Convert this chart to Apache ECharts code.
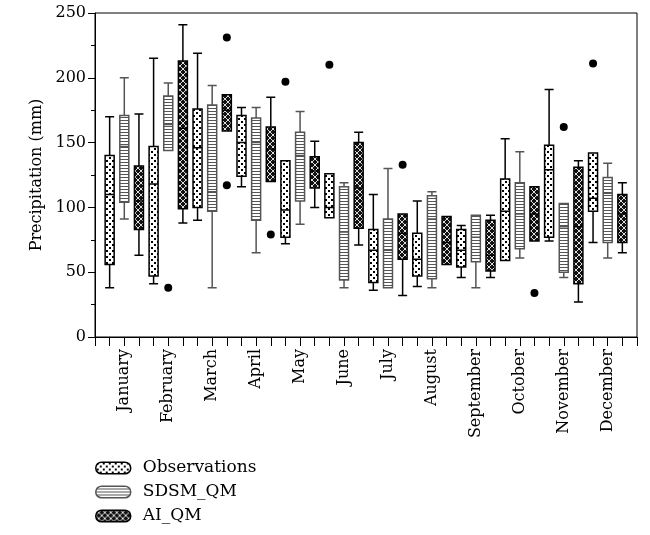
<!DOCTYPE html>
<html>
<head>
<meta charset="utf-8">
<script src="https://cdn.jsdelivr.net/npm/echarts@6/dist/echarts.min.js"></script>
<style>
  html, body { margin: 0; padding: 0; background: #fff; }
  #main { width: 650px; height: 535px; }
</style>
</head>
<body>
<div id="main"></div>
<script>
// month names shown under each group of three boxes
var months = ['January', 'February', 'March', 'April', 'May', 'June',
  'July', 'August', 'September', 'October', 'November', 'December'];

// [min, Q1, median, Q3, max] per month
var observations = [
  [38, 56, 110, 140, 170], [41, 47, 118, 147, 215], [90, 100, 146, 176, 219],
  [116, 124, 150, 171, 177], [72, 77, 98, 136, 136], [92, 92, 100, 126, 126],
  [36, 42, 67, 83, 110], [39, 47, 60, 80, 105], [46, 54, 67, 83, 86],
  [59, 59, 97, 122, 153], [74, 77, 129, 148, 191], [73, 97, 107, 142, 142]
];
var sdsmQm = [
  [91, 104, 147, 171, 200], [144, 144, 164, 186, 196], [38, 97, 112, 179, 194],
  [65, 90, 150, 169, 177], [87, 105, 140, 158, 174], [38, 44, 81, 116, 119],
  [38, 38, 67, 91, 130], [38, 45, 91, 109, 112], [38, 58, 77, 94, 94],
  [61, 68, 95, 119, 143], [46, 50, 85, 103, 103], [61, 73, 111, 123, 134]
];
var aiQm = [
  [63, 83, 105, 132, 172], [88, 99, 161, 213, 241], [159, 159, 175, 187, 187],
  [120, 120, 145, 162, 185], [100, 115, 128, 139, 151], [71, 84, 115, 150, 158],
  [32, 60, 80, 95, 95], [56, 56, 73, 93, 93], [46, 51, 63, 90, 94],
  [74, 74, 95, 116, 116], [27, 41, 85, 131, 136], [65, 73, 95, 110, 119]
];

// outliers: [month index, value]
var obsOutliers = [[4, 197], [5, 210], [11, 211]];
var sdsmOutliers = [[1, 38], [10, 162]];
var aiOutliers = [[2, 231], [2, 117], [3, 79], [6, 133], [9, 34]];

var seriesNames = ['Observations', 'SDSM_QM', 'AI_QM'];
var FONT = 'DejaVu Serif';

function makePattern(w, h, draw) {
  var c = document.createElement('canvas');
  c.width = w;
  c.height = h;
  draw(c.getContext('2d'));
  return { image: c, repeat: 'repeat' };
}

var dotFill = makePattern(6, 6, function (ctx) {
  ctx.fillStyle = '#fff';
  ctx.fillRect(0, 0, 6, 6);
  ctx.fillStyle = '#000';
  ctx.fillRect(1, 1, 2, 2);
  ctx.fillRect(4, 4, 2, 2);
});
var stripeFill = makePattern(4, 3, function (ctx) {
  ctx.fillStyle = '#fff';
  ctx.fillRect(0, 0, 4, 3);
  ctx.fillStyle = '#555';
  ctx.fillRect(0, 0, 4, 1);
});
var crossFill = makePattern(6, 6, function (ctx) {
  ctx.fillStyle = '#111';
  ctx.fillRect(0, 0, 6, 6);
  ctx.strokeStyle = '#ddd';
  ctx.lineWidth = 1;
  ctx.beginPath();
  ctx.moveTo(0, 0); ctx.lineTo(6, 6);
  ctx.moveTo(6, 0); ctx.lineTo(0, 6);
  ctx.stroke();
});

var fills = [dotFill, stripeFill, crossFill];
var borders = ['#000', '#555', '#000'];
var groups = [observations, sdsmQm, aiQm];
var outlierGroups = [obsOutliers, sdsmOutliers, aiOutliers];

// each group gets its own hidden x axis so boxes are not shifted sideways
var xAxes = [];
for (var a = 0; a < 3; a++) {
  xAxes.push({
    type: 'value',
    show: a === 0,
    min: 0,
    max: 37,
    interval: 1,
    gridIndex: 0,
    splitLine: { show: false },
    axisLine: { lineStyle: { color: '#000', width: 1 } },
    axisTick: { show: true, length: 9, lineStyle: { color: '#000', width: 1 } },
    axisLabel: {
      rotate: 90,
      margin: 12,
      color: '#000',
      fontFamily: FONT,
      fontSize: 16,
      formatter: function (v) {
        return (v % 3 === 2 && v < 36) ? months[(v - 2) / 3] : '';
      }
    }
  });
}

var series = [];
groups.forEach(function (g, s) {
  series.push({
    name: seriesNames[s],
    type: 'boxplot',
    xAxisIndex: s,
    boxWidth: [9, 9],
    itemStyle: { color: fills[s], borderColor: borders[s], borderWidth: 1.5 },
    emphasis: { disabled: true },
    data: g.map(function (d, m) {
      return [m * 3 + s + 1].concat(d);
    })
  });
});
series.push({
  name: 'outliers',
  type: 'scatter',
  xAxisIndex: 0,
  symbolSize: 8,
  itemStyle: { color: '#000', opacity: 1 },
  emphasis: { disabled: true },
  data: [].concat.apply([], outlierGroups.map(function (list, s) {
    return list.map(function (p) { return [p[0] * 3 + s + 1, p[1]]; });
  }))
});

var pill = 'path://M6,0L30,0A6,6,0,0,1,30,12L6,12A6,6,0,0,1,6,0Z';

var chart = echarts.init(document.getElementById('main'));
chart.setOption({
  animation: false,
  grid: {
    left: 95, right: 13, top: 13, bottom: 198,
    show: true, borderColor: '#000', borderWidth: 1
  },
  legend: {
    data: seriesNames.map(function (n, i) {
      return {
        name: n,
        itemStyle: { color: fills[i], borderColor: borders[i], borderWidth: 1.5 }
      };
    }),
    orient: 'vertical',
    left: 90,
    top: 454,
    height: 90,
    icon: pill,
    itemWidth: 35,
    itemHeight: 13,
    itemGap: 6,
    textStyle: {
      fontFamily: FONT, fontSize: 17, color: '#000',
      lineHeight: 18, padding: [0, 0, 0, 7]
    }
  },
  xAxis: xAxes,
  yAxis: {
    type: 'value',
    min: 0,
    max: 250,
    interval: 50,
    name: 'Precipitation (mm)',
    nameLocation: 'middle',
    nameGap: 43,
    nameTextStyle: { fontFamily: FONT, fontSize: 16, color: '#000' },
    splitLine: { show: false },
    axisLine: { show: true, lineStyle: { color: '#000', width: 1 } },
    axisTick: { show: true, length: 7, lineStyle: { color: '#000' } },
    minorTick: { show: true, splitNumber: 2, length: 4, lineStyle: { color: '#000' } },
    axisLabel: { margin: 9, color: '#000', fontFamily: FONT, fontSize: 16 }
  },
  series: series
});
</script>
</body>
</html>
